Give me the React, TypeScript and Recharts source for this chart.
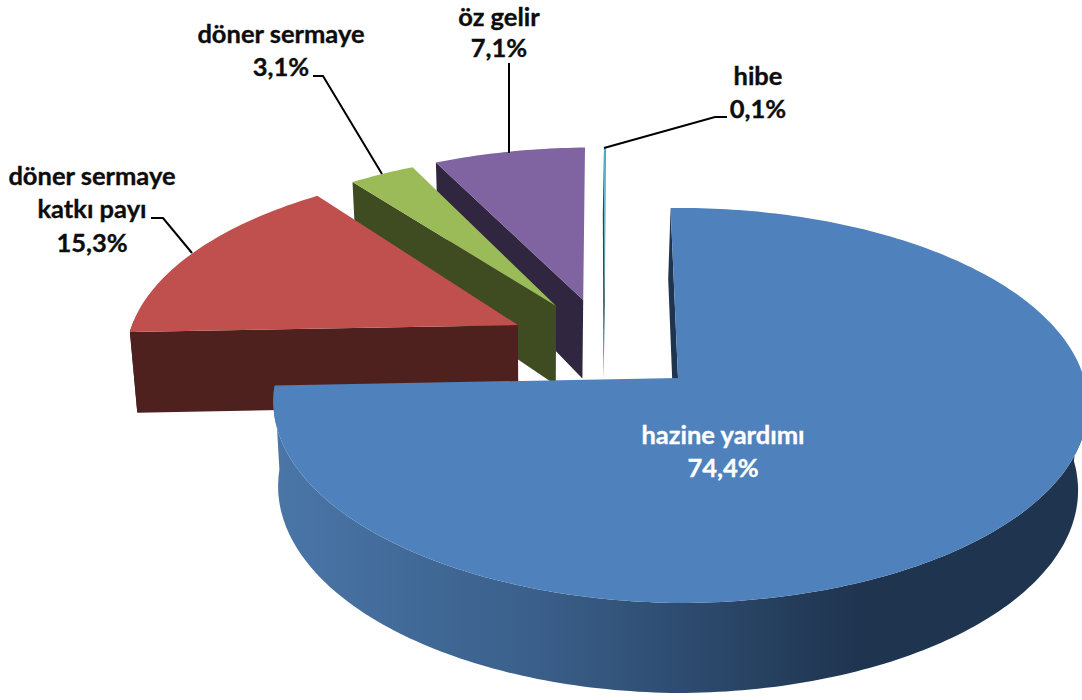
import React from 'react';
import { PieChart, Pie } from 'recharts';

// drawn back to front, so the big slice has to stay last
const categories = ['hibe', 'öz gelir', 'döner sermaye', 'döner sermaye katkı payı', 'hazine yardımı'];
const shares = [0.1, 7.1, 3.1, 15.3, 74.4];

const data = categories.map((name, i) => ({ name, value: shares[i] }));

const tops = ['#4bacc6', '#8064a2', '#9bbb59', '#c0504d', '#4f81bd'];
const faces = ['#1f4a56', '#30263f', '#3f4b21', '#4e201e', '#1f344f'];
const walls = ['#1f4a56', '#30263f', '#3f4b21', '#4e201e', 'url(#blueWall)'];

// how far each slice is pulled out of the pie, in radii on the disc plane
const explode = [
  [-0.19, 0.42],
  [-0.246, 0.426],
  [-0.315, 0.392],
  [-0.408, 0.2845],
  [0, 0],
];
// the original's perspective is not quite symmetric, these bend the rim a little
const leftScale = [1, 1, 0.99, 0.983, 0.985];
const rightScale = [1, 1, 1, 1, 0.995];
const leftLift = [0, 0, 0, 0.02, 0.02];

const labelAnchors = [
  { x: 758, y: 85, gap: 33.3, line: '727,117 715,117 604,148' },
  { x: 499, y: 25.5, gap: 31, line: '509,63 509,153' },
  { x: 281, y: 43, gap: 33.3, line: '313,76 323,76 382,174' },
  { x: 92, y: 185, gap: 33.3, line: '151,218 163,218 192,253' },
  { x: 723, y: 444, gap: 33.3, line: '' },
];

const TILT = 0.4748;
const PERSPECTIVE = 0.139;

const project = (cx: number, cy: number, R: number, u: number, v: number) => {
  const d = 1 + PERSPECTIVE * v;
  return { x: cx + (R * u) / d, y: cy - (R * TILT * v) / d };
};

// the underside: thickness gets smaller towards the back of the disc
const lower = (cx: number, p: { x: number; y: number }, v: number) => ({
  x: p.x - (p.x - cx) * 0.018 - 2.5,
  y: p.y + (v > 0 ? 84 - 13 * v : 84 - 6 * v),
});

const toPath = (pts: { x: number; y: number }[]) =>
  pts.map((p, i) => `${i ? 'L' : 'M'}${p.x.toFixed(1)} ${p.y.toFixed(1)}`).join(' ') + ' Z';

const Slice3D = (props: any) => {
  const { cx, cy, outerRadius: R, startAngle, endAngle, index } = props;
  const i = index ?? categories.indexOf(props.name);
  const [u0, v0] = explode[i];

  const rim = (angle: number) => {
    const t = ((90 - angle) * Math.PI) / 180;
    const sin = Math.sin(t);
    const u = u0 + sin * (sin < 0 ? leftScale[i] : rightScale[i]);
    const v = v0 + Math.cos(t) - (sin < 0 ? sin * leftLift[i] : 0);
    return { ...project(cx, cy, R, u, v), v, front: Math.cos(t) < 0.02 };
  };

  const apex = project(cx, cy, R, u0, v0);
  const steps: ReturnType<typeof rim>[] = [];
  const n = Math.max(2, Math.ceil(Math.abs(endAngle - startAngle)));
  for (let s = 0; s <= n; s++) {
    steps.push(rim(startAngle + ((endAngle - startAngle) * s) / n));
  }

  const end = steps[steps.length - 1];
  const face = [end, apex, lower(cx, apex, v0), lower(cx, end, end.v)];

  const front = steps.filter((p) => p.front);
  const wall = front.length
    ? [...front, ...front.map((p) => lower(cx, p, p.v)).reverse()]
    : null;

  return (
    <g>
      <defs>
        <linearGradient id="blueWall" gradientUnits="userSpaceOnUse" x1={272} y1={0} x2={860} y2={0}>
          <stop offset="0%" stopColor="#4a76a8" />
          <stop offset="45%" stopColor="#3a5f8a" />
          <stop offset="100%" stopColor="#1f344f" />
        </linearGradient>
      </defs>
      <path d={toPath(face)} fill={faces[i]} />
      {wall && <path d={toPath(wall)} fill={walls[i]} />}
      <path d={toPath([apex, ...steps])} fill={tops[i]} />
    </g>
  );
};

const renderLabel = (props: any) => {
  const i = props.index;
  const a = labelAnchors[i];
  const lines = categories[i].replace(' katkı', '\nkatkı').split('\n');
  lines.push(shares[i].toFixed(1).replace('.', ',') + '%');
  const ink = i === 4 ? '#fff' : '#0d0d0d';
  return (
    <g>
      {a.line && <polyline points={a.line} fill="none" stroke="#000" strokeWidth={2} />}
      {lines.map((t, j) => (
        <text
          key={j}
          x={a.x}
          y={a.y + j * a.gap}
          textAnchor="middle"
          fontFamily="Lato"
          fontWeight={700}
          fontSize={25.5}
          fill={ink}
          stroke={ink}
          strokeWidth={0.35}
        >
          {t}
        </text>
      ))}
    </g>
  );
};

export default function App() {
  return (
    <div style={{ position: 'absolute', left: 0, top: 0, width: 1082, height: 700, background: '#fff', overflow: 'hidden' }}>
      <PieChart width={1082} height={700} margin={{ top: 0, right: 0, bottom: 0, left: 0 }}>
        <Pie
          data={data}
          dataKey="value"
          nameKey="name"
          cx={678}
          cy={378}
          innerRadius={0}
          outerRadius={408}
          startAngle={91.2}
          endAngle={451.2}
          stroke="none"
          isAnimationActive={false}
          shape={Slice3D}
          activeShape={Slice3D}
          inactiveShape={Slice3D}
          label={renderLabel}
          labelLine={false}
        />
      </PieChart>
    </div>
  );
}
